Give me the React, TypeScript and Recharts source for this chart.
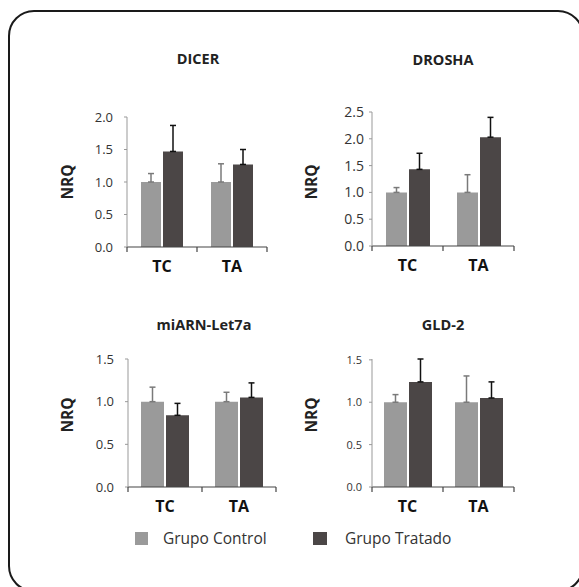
import React from 'react';
import { BarChart, Bar, XAxis, YAxis, ErrorBar } from 'recharts';

const categories = ['TC', 'TA'];

const dicerControl = [1.0, 1.0];
const dicerControlErr = [0.13, 0.28];
const dicerTreated = [1.47, 1.27];
const dicerTreatedErr = [0.4, 0.23];

const droshaControl = [1.0, 1.0];
const droshaControlErr = [0.09, 0.33];
const droshaTreated = [1.43, 2.03];
const droshaTreatedErr = [0.3, 0.37];

const let7aControl = [1.0, 1.0];
const let7aControlErr = [0.17, 0.11];
const let7aTreated = [0.84, 1.05];
const let7aTreatedErr = [0.14, 0.17];

const gld2Control = [1.0, 1.0];
const gld2ControlErr = [0.09, 0.31];
const gld2Treated = [1.24, 1.05];
const gld2TreatedErr = [0.27, 0.19];

const ticks20 = [0, 0.5, 1.0, 1.5, 2.0];
const ticks25 = [0, 0.5, 1.0, 1.5, 2.0, 2.5];
const ticks15 = [0, 0.5, 1.0, 1.5];

const legendLabels = ['Grupo Control', 'Grupo Tratado'];

const CONTROL = '#9a9a9a';
const TREATED = '#4b4646';
const FONT = '"Open Sans", "DejaVu Sans", sans-serif';
const X_TICK_MARGIN = 14;

function buildData(c: number[], ce: number[], t: number[], te: number[]) {
  return categories.map((cat, i) => ({
    cat,
    control: c[i],
    controlErr: [0, ce[i]],
    treated: t[i],
    treatedErr: [0, te[i]],
  }));
}

function CategoryTick(props: any) {
  const { x, y, payload, index, fallbackHalf } = props;
  const half = payload && typeof payload.offset === 'number' && payload.offset > 0 ? payload.offset : fallbackHalf;
  const axisY = y - X_TICK_MARGIN;
  const isLast = index === categories.length - 1;
  return (
    <g>
      <line x1={x - half} x2={x - half} y1={axisY} y2={axisY + 5} stroke="#444" strokeWidth={1.2} />
      {isLast && <line x1={x + half} x2={x + half} y1={axisY} y2={axisY + 5} stroke="#444" strokeWidth={1.2} />}
      <text
        x={x}
        y={y}
        dy="0.71em"
        textAnchor="middle"
        fontFamily={FONT}
        fontWeight={700}
        fontSize={16}
        fill="#111"
      >
        {payload.value}
      </text>
    </g>
  );
}

type PanelProps = {
  title: string;
  data: any[];
  ticks: number[];
  axisX: number;
  plotRight: number;
  plotTop: number;
  plotBottom: number;
  barSize: number;
  tickFont: number;
  tickGap: number;
  titleX: number;
  titleY: number;
  nrqX: number;
  nrqY: number;
};

function Panel(p: PanelProps) {
  const yW = 60;
  const mTop = 12;
  const labelH = 36;
  const left = p.axisX - yW;
  const top = p.plotTop - mTop;
  const width = p.plotRight - p.axisX + yW + 10;
  const height = p.plotBottom - p.plotTop + mTop + labelH;
  const fallbackHalf = (p.plotRight - p.axisX) / (2 * categories.length);
  return (
    <>
      <div
        style={{
          position: 'absolute',
          left: p.titleX - 100,
          top: p.titleY - 10,
          width: 200,
          textAlign: 'center',
          fontFamily: FONT,
          fontWeight: 700,
          fontSize: 14.5,
          lineHeight: '20px',
          color: '#222',
        }}
      >
        {p.title}
      </div>
      <div
        style={{
          position: 'absolute',
          left: p.nrqX - 20,
          top: p.nrqY - 10,
          width: 40,
          height: 20,
          textAlign: 'center',
          fontFamily: FONT,
          fontWeight: 700,
          fontSize: 15.5,
          lineHeight: '20px',
          color: '#222',
          transform: 'rotate(-90deg)',
        }}
      >
        NRQ
      </div>
      <div style={{ position: 'absolute', left, top }}>
        <BarChart
          width={width}
          height={height}
          data={p.data}
          margin={{ top: mTop, right: 10, bottom: 0, left: 0 }}
          barGap={2}
        >
          <XAxis
            dataKey="cat"
            height={labelH}
            stroke="#444"
            axisLine={{ stroke: '#444', strokeWidth: 1.2 }}
            tickLine={false}
            tickSize={0}
            tickMargin={X_TICK_MARGIN}
            interval={0}
            tick={<CategoryTick fallbackHalf={fallbackHalf} />}
          />
          <YAxis
            width={yW}
            domain={[0, p.ticks[p.ticks.length - 1]]}
            ticks={p.ticks}
            interval={0}
            tickFormatter={(v: number) => v.toFixed(1)}
            tickSize={3}
            tickMargin={p.tickGap}
            stroke="#999"
            axisLine={{ stroke: '#999' }}
            tickLine={{ stroke: '#999' }}
            tick={{ fontFamily: FONT, fontSize: p.tickFont, fill: '#333' }}
          />
          <Bar dataKey="control" fill={CONTROL} barSize={p.barSize} isAnimationActive={false}>
            <ErrorBar dataKey="controlErr" direction="y" width={3} stroke="#7a7a7a" strokeWidth={1.5} />
          </Bar>
          <Bar dataKey="treated" fill={TREATED} barSize={p.barSize} isAnimationActive={false}>
            <ErrorBar dataKey="treatedErr" direction="y" width={3} stroke="#111" strokeWidth={1.5} />
          </Bar>
        </BarChart>
      </div>
    </>
  );
}

export default function App() {
  const dicer = buildData(dicerControl, dicerControlErr, dicerTreated, dicerTreatedErr);
  const drosha = buildData(droshaControl, droshaControlErr, droshaTreated, droshaTreatedErr);
  const let7a = buildData(let7aControl, let7aControlErr, let7aTreated, let7aTreatedErr);
  const gld2 = buildData(gld2Control, gld2ControlErr, gld2Treated, gld2TreatedErr);
  return (
    <div
      style={{
        position: 'absolute',
        left: 0,
        top: 0,
        width: 579,
        height: 587,
        overflow: 'hidden',
        background: '#fff',
      }}
    >
      <div
        style={{
          position: 'absolute',
          left: 8,
          top: 10,
          width: 576,
          height: 582,
          border: '2px solid #1a1a1a',
          borderRadius: 26,
          boxSizing: 'border-box',
        }}
      />
      <Panel
        title="DICER"
        data={dicer}
        ticks={ticks20}
        axisX={127}
        plotRight={267}
        plotTop={117}
        plotBottom={247}
        barSize={20}
        tickFont={13}
        tickGap={11}
        titleX={198}
        titleY={59}
        nrqX={67}
        nrqY={182}
      />
      <Panel
        title="DROSHA"
        data={drosha}
        ticks={ticks25}
        axisX={372}
        plotRight={514}
        plotTop={112}
        plotBottom={246}
        barSize={21}
        tickFont={14}
        tickGap={5}
        titleX={443}
        titleY={60}
        nrqX={311}
        nrqY={182}
      />
      <Panel
        title="miARN-Let7a"
        data={let7a}
        ticks={ticks15}
        axisX={128}
        plotRight={276}
        plotTop={359}
        plotBottom={487}
        barSize={23}
        tickFont={13}
        tickGap={11}
        titleX={204}
        titleY={325}
        nrqX={67}
        nrqY={415}
      />
      <Panel
        title="GLD-2"
        data={gld2}
        ticks={ticks15}
        axisX={372}
        plotRight={514}
        plotTop={359}
        plotBottom={487}
        barSize={23}
        tickFont={11}
        tickGap={7}
        titleX={443}
        titleY={325}
        nrqX={311}
        nrqY={415}
      />
      <div style={{ position: 'absolute', left: 135, top: 532, width: 13, height: 13, background: CONTROL }} />
      <div
        style={{
          position: 'absolute',
          left: 163,
          top: 528,
          fontFamily: FONT,
          fontSize: 15.5,
          lineHeight: '20px',
          color: '#333',
          whiteSpace: 'nowrap',
        }}
      >
        {legendLabels[0]}
      </div>
      <div style={{ position: 'absolute', left: 313, top: 532, width: 14, height: 13, background: TREATED }} />
      <div
        style={{
          position: 'absolute',
          left: 345,
          top: 528,
          fontFamily: FONT,
          fontSize: 15.5,
          lineHeight: '20px',
          color: '#333',
          whiteSpace: 'nowrap',
        }}
      >
        {legendLabels[1]}
      </div>
    </div>
  );
}
